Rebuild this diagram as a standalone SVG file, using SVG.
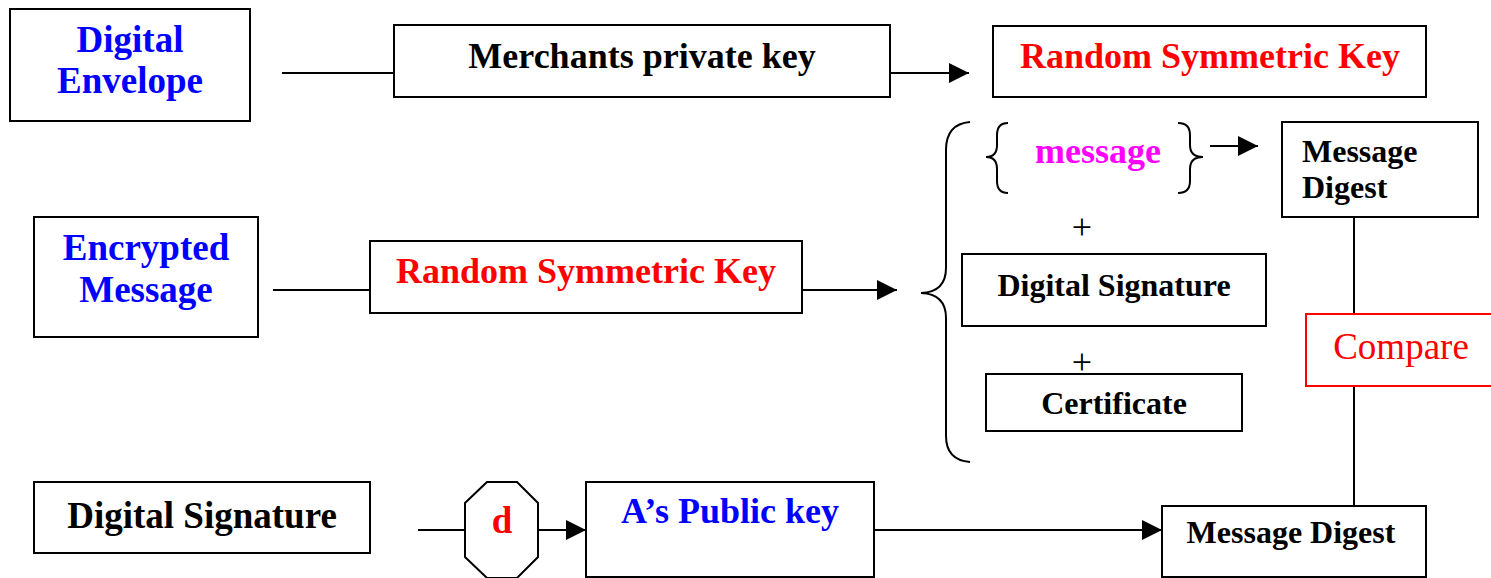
<svg xmlns="http://www.w3.org/2000/svg" width="1491" height="578" viewBox="0 0 1491 578">
  <style>
    .box { fill: #ffffff; stroke: #000000; stroke-width: 2; }
    .red-box { fill: #ffffff; stroke: #ff0000; stroke-width: 2; }
    .line { fill: none; stroke: #000000; stroke-width: 2; }
    .t { font-family: "Liberation Serif", "Times New Roman", serif; font-weight: bold; text-anchor: middle; }
    .start { text-anchor: start; }
    .big { font-size: 37px; }
    .mid { font-size: 36px; }
    .small { font-size: 32px; }
    .plus { font-family: "Liberation Serif", "Times New Roman", serif; font-size: 36px; text-anchor: middle; fill: #000000; }
    .blue { fill: #0000ff; }
    .red { fill: #ff0000; }
    .black { fill: #000000; }
    .magenta { fill: #ff00ff; }
  </style>
  <defs>
    <marker id="arrow" markerUnits="userSpaceOnUse" markerWidth="20" markerHeight="20" refX="20" refY="10" orient="auto">
      <path d="M0,0 L20,10 L0,20 Z" fill="#000000"/>
    </marker>
  </defs>
  <rect width="1491" height="578" fill="#ffffff"/>

  <!-- connectors -->
  <g id="connectors">
    <line class="line" x1="282" y1="73" x2="394" y2="73"/>
    <line class="line" x1="890" y1="73" x2="969" y2="73" marker-end="url(#arrow)"/>
    <line class="line" x1="273" y1="290" x2="370" y2="290"/>
    <line class="line" x1="802" y1="290" x2="897" y2="290" marker-end="url(#arrow)"/>
    <line class="line" x1="1210" y1="146" x2="1258" y2="146" marker-end="url(#arrow)"/>
    <line class="line" x1="1354" y1="217" x2="1354" y2="314"/>
    <line class="line" x1="1354" y1="386" x2="1354" y2="506"/>
    <line class="line" x1="418" y1="530" x2="465" y2="530"/>
    <line class="line" x1="538" y1="530" x2="586" y2="530" marker-end="url(#arrow)"/>
    <line class="line" x1="874" y1="530" x2="1162" y2="530" marker-end="url(#arrow)"/>
  </g>

  <!-- row 1 -->
  <g id="digital-envelope">
    <rect class="box" x="10" y="9" width="240" height="112"/>
    <text class="t big blue" x="130" y="52">Digital</text>
    <text class="t big blue" x="130" y="93">Envelope</text>
  </g>
  <g id="merchants-private-key">
    <rect class="box" x="394" y="25" width="496" height="72"/>
    <text class="t mid black" x="642" y="68">Merchants private key</text>
  </g>
  <g id="random-key-top">
    <rect class="box" x="993" y="26" width="433" height="71"/>
    <text class="t mid red" x="1210" y="68">Random Symmetric Key</text>
  </g>

  <!-- row 2 -->
  <g id="encrypted-message">
    <rect class="box" x="34" y="217" width="224" height="120"/>
    <text class="t big blue" x="146" y="260">Encrypted</text>
    <text class="t big blue" x="146" y="302">Message</text>
  </g>
  <g id="random-key-middle">
    <rect class="box" x="370" y="241" width="432" height="72"/>
    <text class="t mid red" x="586" y="283">Random Symmetric Key</text>
  </g>

  <!-- bundle brace and its contents -->
  <g id="bundle">
    <path class="line" d="M970,122 Q946,124 946,150 L946,268 Q946,292 921,293 Q946,294 946,318 L946,436 Q946,460 970,462"/>
    <path class="line" d="M1008,123 Q997,123 997,135 L997,145 Q997,157 986,157 Q997,157 997,169 L997,181 Q997,193 1008,193"/>
    <path class="line" d="M1178,123 Q1190,123 1190,135 L1190,145 Q1190,157 1203,157 Q1190,157 1190,169 L1190,181 Q1190,193 1178,193"/>
    <text class="t mid magenta" x="1098" y="163">message</text>
    <text class="plus" x="1082" y="239">+</text>
    <text class="plus" x="1082" y="374">+</text>
  </g>
  <g id="digital-signature-middle">
    <rect class="box" x="962" y="254" width="304" height="72"/>
    <text class="t small black" x="1114" y="296">Digital Signature</text>
  </g>
  <g id="certificate">
    <rect class="box" x="986" y="374" width="256" height="57"/>
    <text class="t small black" x="1114" y="414">Certificate</text>
  </g>
  <g id="message-digest-top">
    <rect class="box" x="1282" y="122" width="196" height="95"/>
    <text class="t small black start" x="1302" y="162">Message</text>
    <text class="t small black start" x="1302" y="198">Digest</text>
  </g>
  <g id="compare">
    <rect class="red-box" x="1306" y="314" width="190" height="72"/>
    <text x="1401" y="359" font-family="Liberation Serif, serif" font-size="37" text-anchor="middle" fill="#ff0000">Compare</text>
  </g>

  <!-- row 3 -->
  <g id="digital-signature-bottom">
    <rect class="box" x="34" y="482" width="336" height="71"/>
    <text class="t big black" x="202" y="528">Digital Signature</text>
  </g>
  <g id="decrypt">
    <polygon class="box" points="487,482 517,482 538,503 538,557 517,578 487,578 465,557 465,503"/>
    <text class="t big red" x="502" y="533">d</text>
  </g>
  <g id="public-key">
    <rect class="box" x="586" y="482" width="288" height="95"/>
    <text class="t mid blue" x="730" y="523">A’s Public key</text>
  </g>
  <g id="message-digest-bottom">
    <rect class="box" x="1162" y="506" width="264" height="71"/>
    <text class="t small black" x="1291" y="543">Message Digest</text>
  </g>
</svg>
